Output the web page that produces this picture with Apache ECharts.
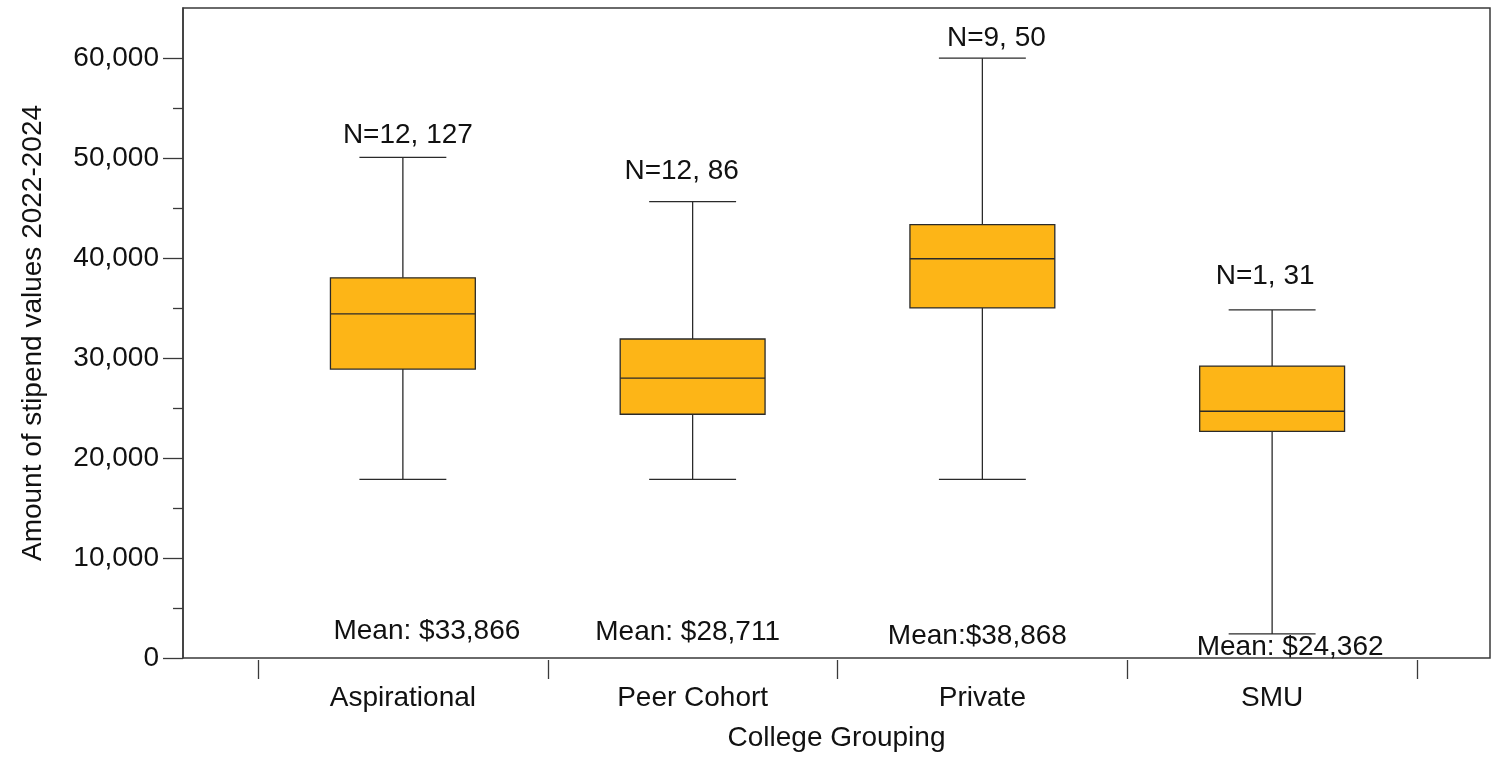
<!DOCTYPE html>
<html>
<head>
<meta charset="utf-8">
<script src="https://cdn.jsdelivr.net/npm/echarts@6/dist/echarts.min.js"></script>
<style>
html,body{margin:0;padding:0;background:#fff;}
#chart{width:1496px;height:757px;}
</style>
</head>
<body>
<div id="chart"></div>
<script>
// ---- data ----
const categories = ['Aspirational', 'Peer Cohort', 'Private', 'SMU'];
const whiskerLow = [18000, 18000, 18000, 2600];
const q1Values = [29000, 24500, 35100, 22800];
const medianValues = [34500, 28100, 40000, 24800];
const q3Values = [38100, 32000, 43400, 29300];
const whiskerHigh = [50100, 45700, 60000, 34900];
const nLabels = ['N=12, 127', 'N=12, 86', 'N=9, 50', 'N=1, 31'];
const meanLabels = ['Mean: $33,866', 'Mean: $28,711', 'Mean:$38,868', 'Mean: $24,362'];
const yTickValues = [0, 10000, 20000, 30000, 40000, 50000, 60000];
const yMinorTickValues = [5000, 15000, 25000, 35000, 45000, 55000];

// ---- annotation placement (pixel offsets) ----
const nLabelOffset = [[5, -22], [-11, -30], [14, -20], [-7, -34]];
const meanLabelOffset = [[24, -29], [-5, -28], [-5, -24], [18, -13]];

const FONT = 'Liberation Sans, Arial, Helvetica, sans-serif';
const FS = 28;
const FILL = '#FDB517';
const LINE = '#2a2a2a';

const boxData = categories.map((c, i) => [i, whiskerLow[i], q1Values[i], medianValues[i], q3Values[i], whiskerHigh[i]]);

function renderBox(params, api) {
  const i = api.value(0);
  const band = api.size([1, 0])[0];
  const bw = band * 0.5, cw = band * 0.3;
  const pLow = api.coord([i, api.value(1)]);
  const pQ1 = api.coord([i, api.value(2)]);
  const pMed = api.coord([i, api.value(3)]);
  const pQ3 = api.coord([i, api.value(4)]);
  const pHigh = api.coord([i, api.value(5)]);
  const cx = pMed[0];
  const bottomY = api.coord([i, 0])[1];
  const ls = { stroke: LINE, lineWidth: 1.3, fill: null };
  const ts = (text, x, y) => ({
    type: 'text', silent: true,
    style: { text: text, x: x, y: y, fill: '#111', font: FS + 'px ' + FONT, align: 'center', verticalAlign: 'middle' }
  });
  return {
    type: 'group',
    children: [
      { type: 'line', shape: { x1: cx, y1: pHigh[1], x2: cx, y2: pQ3[1] }, style: ls },
      { type: 'line', shape: { x1: cx, y1: pQ1[1], x2: cx, y2: pLow[1] }, style: ls },
      { type: 'line', shape: { x1: cx - cw / 2, y1: pHigh[1], x2: cx + cw / 2, y2: pHigh[1] }, style: ls },
      { type: 'line', shape: { x1: cx - cw / 2, y1: pLow[1], x2: cx + cw / 2, y2: pLow[1] }, style: ls },
      { type: 'rect', shape: { x: cx - bw / 2, y: pQ3[1], width: bw, height: pQ1[1] - pQ3[1] },
        style: { fill: FILL, stroke: LINE, lineWidth: 1.3 } },
      { type: 'line', shape: { x1: cx - bw / 2, y1: pMed[1], x2: cx + bw / 2, y2: pMed[1] }, style: ls },
      ts(nLabels[i], cx + nLabelOffset[i][0], pHigh[1] + nLabelOffset[i][1]),
      ts(meanLabels[i], cx + meanLabelOffset[i][0], bottomY + meanLabelOffset[i][1])
    ]
  };
}

const chart = echarts.init(document.getElementById('chart'));
const GRID_TOP = 8, GRID_BOTTOM = 97;
chart.setOption({
  animation: false,
  backgroundColor: '#fff',
  textStyle: { fontFamily: FONT },
  grid: [
    { left: 183, right: 6, top: GRID_TOP, bottom: GRID_BOTTOM, show: true, borderColor: '#3a3a3a', borderWidth: 1.5, backgroundColor: 'transparent' },
    { left: 258, right: 79, top: GRID_TOP, bottom: GRID_BOTTOM }
  ],
  xAxis: [
    { gridIndex: 0, type: 'value', min: 0, max: 1, axisLine: { show: false }, axisTick: { show: false },
      axisLabel: { show: false }, splitLine: { show: false },
      name: 'College Grouping', nameLocation: 'middle', nameGap: 66,
      nameTextStyle: { fontSize: FS, color: '#111', fontFamily: FONT } },
    { gridIndex: 1, type: 'category', data: categories, boundaryGap: true,
      axisLine: { show: false },
      axisTick: { show: true, length: 19, alignWithLabel: false, lineStyle: { color: '#3a3a3a', width: 1.3 } },
      axisLabel: { fontSize: FS, color: '#111', margin: 24, fontFamily: FONT },
      splitLine: { show: false } }
  ],
  yAxis: [
    { gridIndex: 0, type: 'value', position: 'left', min: 0, max: 65000,
      axisLine: { show: true, lineStyle: { color: '#3a3a3a', width: 1.5 } },
      axisTick: { show: true, length: 20, customValues: yTickValues, lineStyle: { color: '#3a3a3a', width: 1.3 } },
      axisLabel: { customValues: yTickValues, fontSize: FS, color: '#111', margin: 24, fontFamily: FONT,
        formatter: v => v.toLocaleString('en-US') },
      splitLine: { show: false },
      name: 'Amount of stipend values 2022-2024', nameLocation: 'middle', nameGap: 136, nameRotate: 90,
      nameTextStyle: { fontSize: FS, color: '#111', fontFamily: FONT } },
    { gridIndex: 0, type: 'value', position: 'left', offset: 0, min: 0, max: 65000,
      axisLine: { show: false },
      axisTick: { show: true, length: 10, customValues: yMinorTickValues, lineStyle: { color: '#3a3a3a', width: 1.3 } },
      axisLabel: { show: false }, splitLine: { show: false } },
    { gridIndex: 1, type: 'value', min: 0, max: 65000, show: false }
  ],
  series: [
    { type: 'custom', xAxisIndex: 1, yAxisIndex: 2, data: boxData, renderItem: renderBox,
      encode: { x: 0, y: [1, 2, 3, 4, 5] }, clip: false }
  ]
});
</script>
</body>
</html>
